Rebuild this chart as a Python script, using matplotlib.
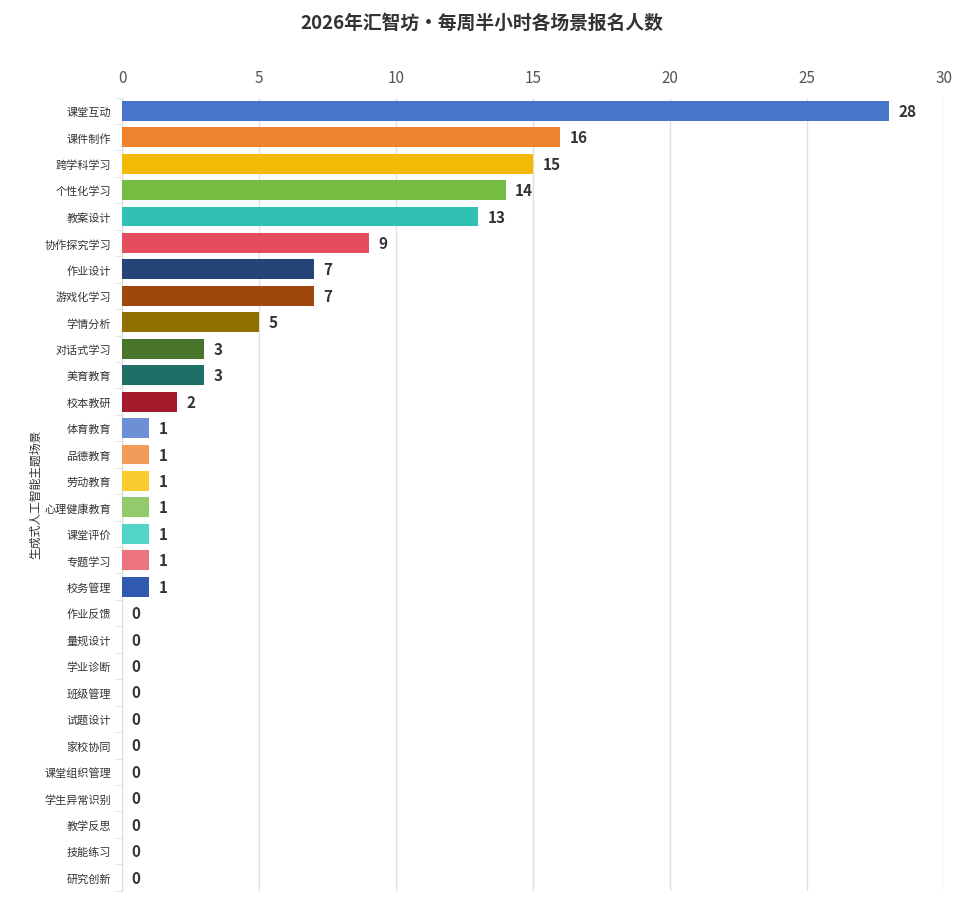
import numpy as np
import matplotlib.pyplot as plt

plt.rcParams['font.family'] = ['Noto Sans CJK SC', 'DejaVu Sans']

scenes = ['课堂互动', '课件制作', '跨学科学习', '个性化学习', '教案设计', '协作探究学习',
          '作业设计', '游戏化学习', '学情分析', '对话式学习', '美育教育', '校本教研',
          '体育教育', '品德教育', '劳动教育', '心理健康教育', '课堂评价', '专题学习',
          '校务管理', '作业反馈', '量规设计', '学业诊断', '班级管理', '试题设计',
          '家校协同', '课堂组织管理', '学生异常识别', '教学反思', '技能练习', '研究创新']
counts = [28, 16, 15, 14, 13, 9, 7, 7, 5, 3, 3, 2, 1, 1, 1, 1, 1, 1, 1,
          0, 0, 0, 0, 0, 0, 0, 0, 0, 0, 0]
colors = ['#4874CB', '#EE822F', '#F2BA02', '#75BD42', '#30C0B4', '#E54C5E',
          '#264478', '#9E480E', '#917000', '#48742C', '#1E7066', '#A21A2C',
          '#6D8FD6', '#F19D59', '#FBCB32', '#93CB6C', '#53D4C8', '#EB7480',
          '#3059B0', '#C46A2A', '#C9A000', '#5E9A35', '#25998F', '#B83E4C',
          '#1C355F', '#7E3A0B', '#745A00', '#3A5C24', '#185A52', '#82152A']

fig = plt.figure(figsize=(9.64, 9.04), dpi=100)
ax = fig.add_axes([0.1266, 0.0135, 0.8524, 0.8775])

y = np.arange(len(scenes))
ax.barh(y, counts, height=0.75, color=colors[:len(scenes)], zorder=3)
for yi, v in zip(y, counts):
    ax.text(v + 0.35, yi, str(v), va='center', ha='left', fontsize=11,
            fontweight='bold', color='#333333', zorder=4)

ax.set_xlim(0, 30)
ax.set_ylim(len(scenes) - 0.5, -0.5)
ax.set_xticks(np.arange(0, 31, 5))
ax.xaxis.tick_top()
ax.tick_params(axis='x', length=0, labelsize=11, labelcolor='#555555', pad=8)
ax.grid(axis='x', color='#E0E0E0', linewidth=1, zorder=0)

ax.set_yticks(y)
ax.set_yticklabels(scenes)
ax.set_yticks(np.arange(-0.5, len(scenes), 1), minor=True)
ax.tick_params(axis='y', which='major', length=0, labelsize=8, labelcolor='#333333', pad=8)
ax.tick_params(axis='y', which='minor', length=5, color='#DDDDDD')

for side in ['top', 'right', 'bottom']:
    ax.spines[side].set_visible(False)
ax.spines['left'].set_color('#DDDDDD')

fig.text(0.037, 0.453, '生成式人工智能主题场景', rotation=90, ha='center', va='center',
         fontsize=8.5, color='#333333')
fig.suptitle('2026年汇智坊•每周半小时各场景报名人数', x=0.5, y=0.985, fontsize=13.5,
             fontweight='bold', color='#333333')

fig.savefig('out.png', dpi=100)
